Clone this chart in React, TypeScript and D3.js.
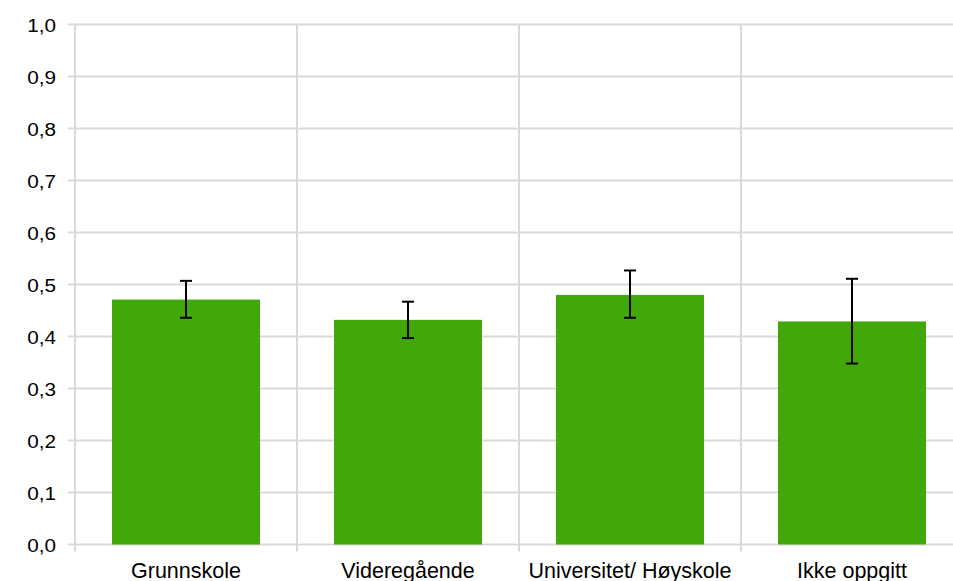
import React from "react";
import * as d3 from "d3";

const categories = ["Grunnskole", "Videregående", "Universitet/ Høyskole", "Ikke oppgitt"];
const values = [0.471, 0.432, 0.480, 0.429];
const errLow = [0.436, 0.397, 0.436, 0.348];
const errHigh = [0.507, 0.467, 0.527, 0.511];
const yTicks = [0, 0.1, 0.2, 0.3, 0.4, 0.5, 0.6, 0.7, 0.8, 0.9, 1.0];

const W = 953;
const H = 581;
const left = 75;
const right = 963;
const top = 24.5;
const bottom = 544.5;

export default function App() {
  const x = d3.scaleBand<string>().domain(categories).range([left, right]).paddingInner(0).paddingOuter(0);
  const y = d3.scaleLinear().domain([0, 1]).range([bottom, top]);
  const bw = x.bandwidth();
  const barW = bw * (148 / 222);
  const fmt = (v: number) => v.toFixed(1).replace(".", ",");
  const grid = "#d9d9d9";
  return (
    <svg
      width={W}
      height={H}
      style={{ position: "absolute", left: 0, top: 0, background: "#fff" }}
      fontFamily="'Liberation Sans', Arial, sans-serif"
    >
      {yTicks.map((t) => (
        <g key={t}>
          <line x1={left - 7} x2={right} y1={y(t)} y2={y(t)} stroke={grid} strokeWidth={2} />
          <text x={56} y={y(t) + 7.5} textAnchor="end" fontSize={18.5} fill="#000"
            transform={`translate(56,0) scale(1.12,1) translate(-56,0)`}>
            {fmt(t)}
          </text>
        </g>
      ))}
      {[left, ...categories.slice(1).map((c) => x(c)!)].map((px, i) => (
        <line key={i} x1={px} x2={px} y1={top} y2={i === 0 ? bottom + 1 : bottom + 7} stroke={grid} strokeWidth={2} />
      ))}
      <line x1={left} x2={left} y1={bottom} y2={bottom + 7} stroke={grid} strokeWidth={2} />
      {categories.map((c, i) => {
        const cx = x(c)! + bw / 2;
        return (
          <g key={c}>
            <rect x={cx - barW / 2} y={y(values[i])} width={barW} height={bottom - y(values[i])} fill="#42a70b" />
            <line x1={cx} x2={cx} y1={y(errHigh[i])} y2={y(errLow[i])} stroke="#000" strokeWidth={2} />
            <line x1={cx - 6} x2={cx + 6} y1={y(errHigh[i])} y2={y(errHigh[i])} stroke="#000" strokeWidth={2} />
            <line x1={cx - 6} x2={cx + 6} y1={y(errLow[i])} y2={y(errLow[i])} stroke="#000" strokeWidth={2} />
            <text x={cx} y={577.7} textAnchor="middle" fontSize={21.5} fill="#000">
              {c}
            </text>
          </g>
        );
      })}
    </svg>
  );
}
